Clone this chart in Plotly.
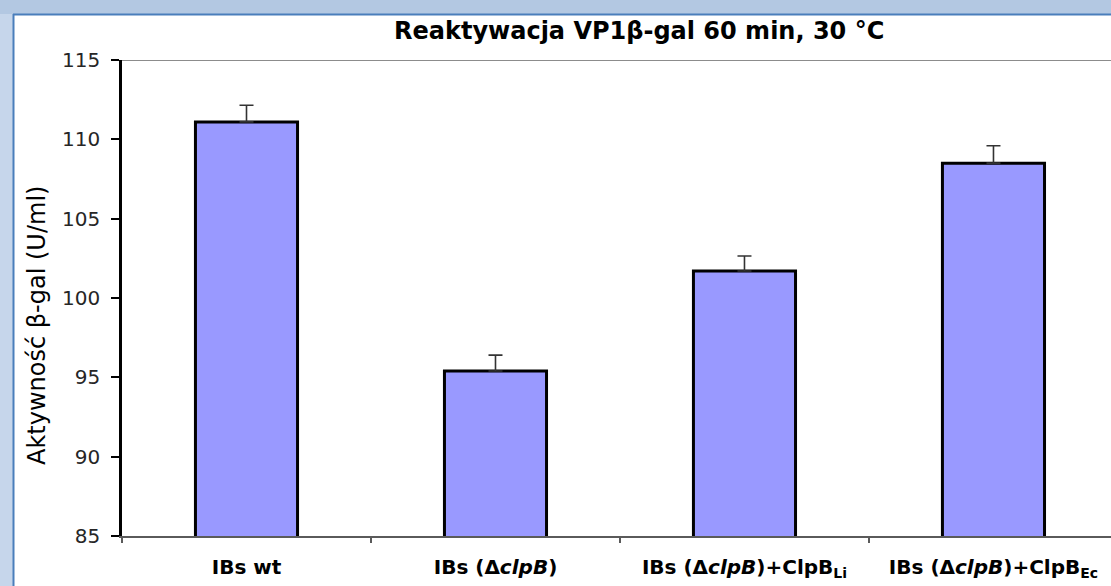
import plotly.graph_objects as go

# Reactivation data (β-gal activity, U/ml)
categories = [
    "<b>IBs wt</b>",
    "<b>IBs (Δ<i>clpB</i>)</b>",
    "<b>IBs (Δ<i>clpB</i>)+ClpB<sub>Li</sub></b>",
    "<b>IBs (Δ<i>clpB</i>)+ClpB<sub>Ec</sub></b>",
]
activity = [111.1, 95.4, 101.7, 108.5]
activity_err = [1.05, 1.0, 0.95, 1.1]
y_ticks = [85, 90, 95, 100, 105, 110, 115]

W, H = 1111, 586
ML, MR, MT, MB = 122, 0, 60, 50
PW, PH = W - ML - MR, H - MT - MB
FONT = "DejaVu Sans, Arial, sans-serif"


def px_x(p):
    return (p - ML) / PW


def px_y(p):
    return (H - MB - p) / PH


fig = go.Figure()
fig.add_trace(go.Bar(
    x=list(range(len(categories))),
    y=activity,
    width=0.41,
    marker=dict(color="#9999FF", line=dict(color="#000000", width=3)),
    error_y=dict(type="data", array=activity_err, arrayminus=[0] * len(activity),
                 symmetric=False, color="#333333", thickness=1.6, width=7),
))

frame_line = "#4a7ebb"
shapes = [
    # window frame bands
    dict(type="rect", xref="paper", yref="paper", x0=px_x(0), x1=px_x(W), y0=px_y(0), y1=px_y(14),
         fillcolor="#b3c8e2", line=dict(width=0), layer="below"),
    dict(type="rect", xref="paper", yref="paper", x0=px_x(0), x1=px_x(13), y0=px_y(14), y1=px_y(H),
         fillcolor="#c6d6eb", line=dict(width=0), layer="below"),
    dict(type="line", xref="paper", yref="paper", x0=px_x(13), x1=px_x(W), y0=px_y(14.5), y1=px_y(14.5),
         line=dict(color=frame_line, width=2)),
    dict(type="line", xref="paper", yref="paper", x0=px_x(13.5), x1=px_x(13.5), y0=px_y(14), y1=px_y(H),
         line=dict(color=frame_line, width=2)),
    # top border of plot area
    dict(type="line", xref="paper", yref="y", x0=0, x1=1, y0=115, y1=115,
         line=dict(color="#8c8c8c", width=2)),
]

fig.update_layout(
    width=W, height=H,
    margin=dict(l=ML, r=MR, t=MT, b=MB),
    paper_bgcolor="#ffffff",
    plot_bgcolor="#ffffff",
    showlegend=False,
    shapes=shapes,
    font=dict(family=FONT, color="#000000"),
    annotations=[
        dict(text="<b>Reaktywacja VP1β-gal 60 min, 30 °C</b>", xref="paper", yref="paper",
             x=px_x(639), y=px_y(31), xanchor="center", yanchor="middle", showarrow=False,
             font=dict(family=FONT, size=24, color="#000000")),
        dict(text="Aktywność β-gal (U/ml)", xref="paper", yref="paper",
             x=px_x(37), y=px_y(326), xanchor="center", yanchor="middle", showarrow=False,
             textangle=-90, font=dict(family=FONT, size=24, color="#000000")),
    ],
    xaxis=dict(
        tickmode="array",
        tickvals=list(range(len(categories))),
        ticktext=categories,
        range=[-0.5, 3.472],
        showgrid=False,
        zeroline=False,
        showline=True, linecolor="#5a5a5a", linewidth=2,
        ticks="", tickangle=0,
        tickfont=dict(family=FONT, size=20, color="#000000"),
        ticklabelstandoff=12,
    ),
    xaxis2=dict(
        overlaying="x", range=[-0.5, 3.472],
        tickmode="array", tickvals=[-0.5, 0.5, 1.5, 2.5, 3.5],
        ticks="outside", ticklen=6, tickwidth=1.5, tickcolor="#5a5a5a",
        showticklabels=False, showgrid=False, zeroline=False, side="bottom",
        anchor="y",
    ),
    yaxis=dict(
        range=[85, 115],
        tickmode="array", tickvals=y_ticks,
        showgrid=False, zeroline=False,
        showline=True, linecolor="#000000", linewidth=2.5,
        ticks="outside", ticklen=8, tickwidth=2, tickcolor="#000000",
        tickfont=dict(family=FONT, size=20, color="#262626"),
        ticklabelstandoff=7,
    ),
)

# invisible trace so the boundary tick marks on the secondary x axis are drawn
fig.add_trace(go.Scatter(x=[0], y=[85], xaxis="x2", mode="markers",
                         marker=dict(opacity=0), hoverinfo="skip"))

fig.write_html("out.html")
